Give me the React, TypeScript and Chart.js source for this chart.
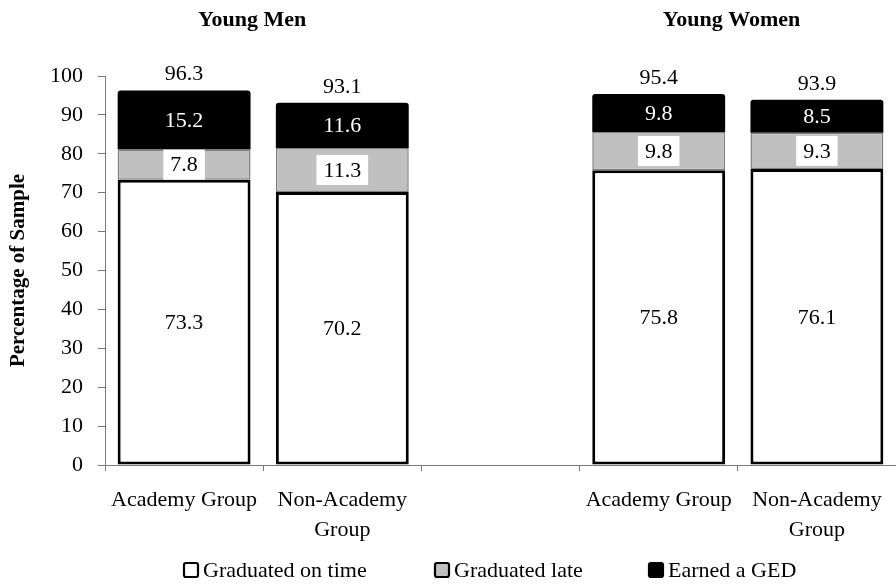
import React, { useEffect, useRef } from "react";
import { Chart, registerables } from "chart.js";

Chart.register(...registerables);

const CATEGORIES: string[][] = [["Academy Group"], ["Non-Academy", "Group"], [""], ["Academy Group"], ["Non-Academy", "Group"]];
const ON_TIME: (number | null)[] = [73.3, 70.2, null, 75.8, 76.1];
const LATE: (number | null)[] = [7.8, 11.3, null, 9.8, 9.3];
const GED: (number | null)[] = [15.2, 11.6, null, 9.8, 8.5];
const TOTALS: (number | null)[] = [96.3, 93.1, null, 95.4, 93.9];
const SERIES_NAMES = ["Graduated on time", "Graduated late", "Earned a GED"];
const GROUP_TITLES = ["Young Men", "Young Women"];
const GROUP_TITLE_POS = [0.43, 3.46];
const Y_MIN = 0;
const Y_MAX = 100;
const Y_STEP = 10;

const FONT = '"Liberation Serif", "Times New Roman", serif';
const COLORS = ["#ffffff", "#c0c0c0", "#000000"];
const BORDERS = ["#000000", "#7f7f7f", "#000000"];
const LEGEND_X = [183, 434, 648];
const AXIS_COLOR = "#7a7a7a";

const annotatePlugin = {
  id: "annotate",
  afterDatasetsDraw(chart: any) {
    const ctx = chart.ctx as CanvasRenderingContext2D;
    ctx.save();
    ctx.font = `22px ${FONT}`;
    ctx.textAlign = "center";
    ctx.textBaseline = "middle";
    chart.data.datasets.forEach((ds: any, di: number) => {
      const meta = chart.getDatasetMeta(di);
      meta.data.forEach((bar: any, j: number) => {
        const v = ds.data[j];
        if (v == null) return;
        const cy = (bar.y + bar.base) / 2;
        const txt = v.toFixed(1);
        if (di === 1) {
          const w = ctx.measureText(txt).width + 14;
          ctx.fillStyle = "#ffffff";
          ctx.fillRect(bar.x - w / 2, cy - 15, w, 30);
        }
        ctx.fillStyle = di === 2 ? "#ffffff" : "#000000";
        ctx.fillText(txt, bar.x, cy + 1);
      });
    });
    const topMeta = chart.getDatasetMeta(chart.data.datasets.length - 1);
    TOTALS.forEach((t, j) => {
      if (t == null) return;
      const bar: any = topMeta.data[j];
      ctx.fillStyle = "#000000";
      ctx.fillText(t.toFixed(1), bar.x, bar.y - 16);
    });
    ctx.restore();
  },
  afterDraw(chart: any) {
    const ctx = chart.ctx as CanvasRenderingContext2D;
    ctx.save();
    // group titles
    const xs = chart.scales.x;
    ctx.font = `bold 22px ${FONT}`;
    ctx.textAlign = "center";
    ctx.textBaseline = "alphabetic";
    ctx.fillStyle = "#000000";
    GROUP_TITLES.forEach((t, i) => {
      const p = GROUP_TITLE_POS[i];
      const i0 = Math.floor(p);
      const x0 = xs.getPixelForTick(i0);
      const x1 = xs.getPixelForTick(i0 + 1);
      ctx.fillText(t, x0 + (x1 - x0) * (p - i0), 26);
    });
    // legend
    ctx.font = `22px ${FONT}`;
    ctx.textAlign = "left";
    ctx.textBaseline = "middle";
    const ly = 570;
    SERIES_NAMES.forEach((name, i) => {
      const x = LEGEND_X[i];
      const s = 14;
      ctx.beginPath();
      (ctx as any).roundRect(x + 1, ly - s / 2, s, s, 2);
      ctx.fillStyle = COLORS[i];
      ctx.fill();
      ctx.lineWidth = 2.2;
      ctx.strokeStyle = "#000000";
      ctx.stroke();
      ctx.fillStyle = "#000000";
      ctx.fillText(name, x + 20, ly + 1);
    });
    ctx.restore();
  },
};

export default function App() {
  const ref = useRef<HTMLCanvasElement | null>(null);

  useEffect(() => {
    if (!ref.current) return;
    const datasets = [ON_TIME, LATE, GED].map((d, i) => ({
      label: SERIES_NAMES[i],
      data: d,
      backgroundColor: COLORS[i],
      borderColor: BORDERS[i],
      borderWidth: i === 0 ? 3 : i === 1 ? 1.5 : 0,
      borderSkipped: false as any,
      borderRadius: i === 2 ? { topLeft: 3, topRight: 3, bottomLeft: 0, bottomRight: 0 } : 0,
      barPercentage: 0.84,
      categoryPercentage: 1,
    }));
    const chart = new Chart(ref.current, {
      type: "bar",
      data: { labels: CATEGORIES, datasets },
      options: {
        animation: false,
        responsive: false,
        maintainAspectRatio: false,
        layout: { padding: { top: 76, right: 0, bottom: 0, left: 0 } },
        plugins: { legend: { display: false }, tooltip: { enabled: false }, title: { display: false } },
        scales: {
          x: {
            stacked: true,
            offset: true,
            afterFit: (s: any) => {
              s.height = 120;
            },
            grid: { offset: true, drawOnChartArea: false, drawTicks: true, tickLength: 6, color: AXIS_COLOR, lineWidth: 1 },
            border: { display: true, color: AXIS_COLOR, width: 1 },
            ticks: {
              font: { family: FONT, size: 22, lineHeight: 1.36 },
              color: "#000000",
              padding: 14,
              maxRotation: 0,
              autoSkip: false,
            },
          },
          y: {
            stacked: true,
            min: Y_MIN,
            max: Y_MAX,
            afterFit: (s: any) => {
              s.width = 105;
            },
            grid: { drawOnChartArea: false, drawTicks: true, tickLength: 7, color: AXIS_COLOR, lineWidth: 1 },
            border: { display: true, color: AXIS_COLOR, width: 1 },
            ticks: { stepSize: Y_STEP, font: { family: FONT, size: 22 }, color: "#000000", padding: 15 },
            title: {
              display: true,
              text: "Percentage of Sample",
              font: { family: FONT, size: 21, weight: "bold", lineHeight: 1.2 },
              color: "#000000",
              padding: { top: 6, bottom: 0 },
            },
          },
        },
      },
      plugins: [annotatePlugin],
    });
    return () => chart.destroy();
  }, []);

  return (
    <div style={{ position: "absolute", left: 0, top: 0, width: 896, height: 585, background: "#ffffff" }}>
      <canvas ref={ref} width={896} height={585} style={{ display: "block", width: 896, height: 585 }} />
    </div>
  );
}
